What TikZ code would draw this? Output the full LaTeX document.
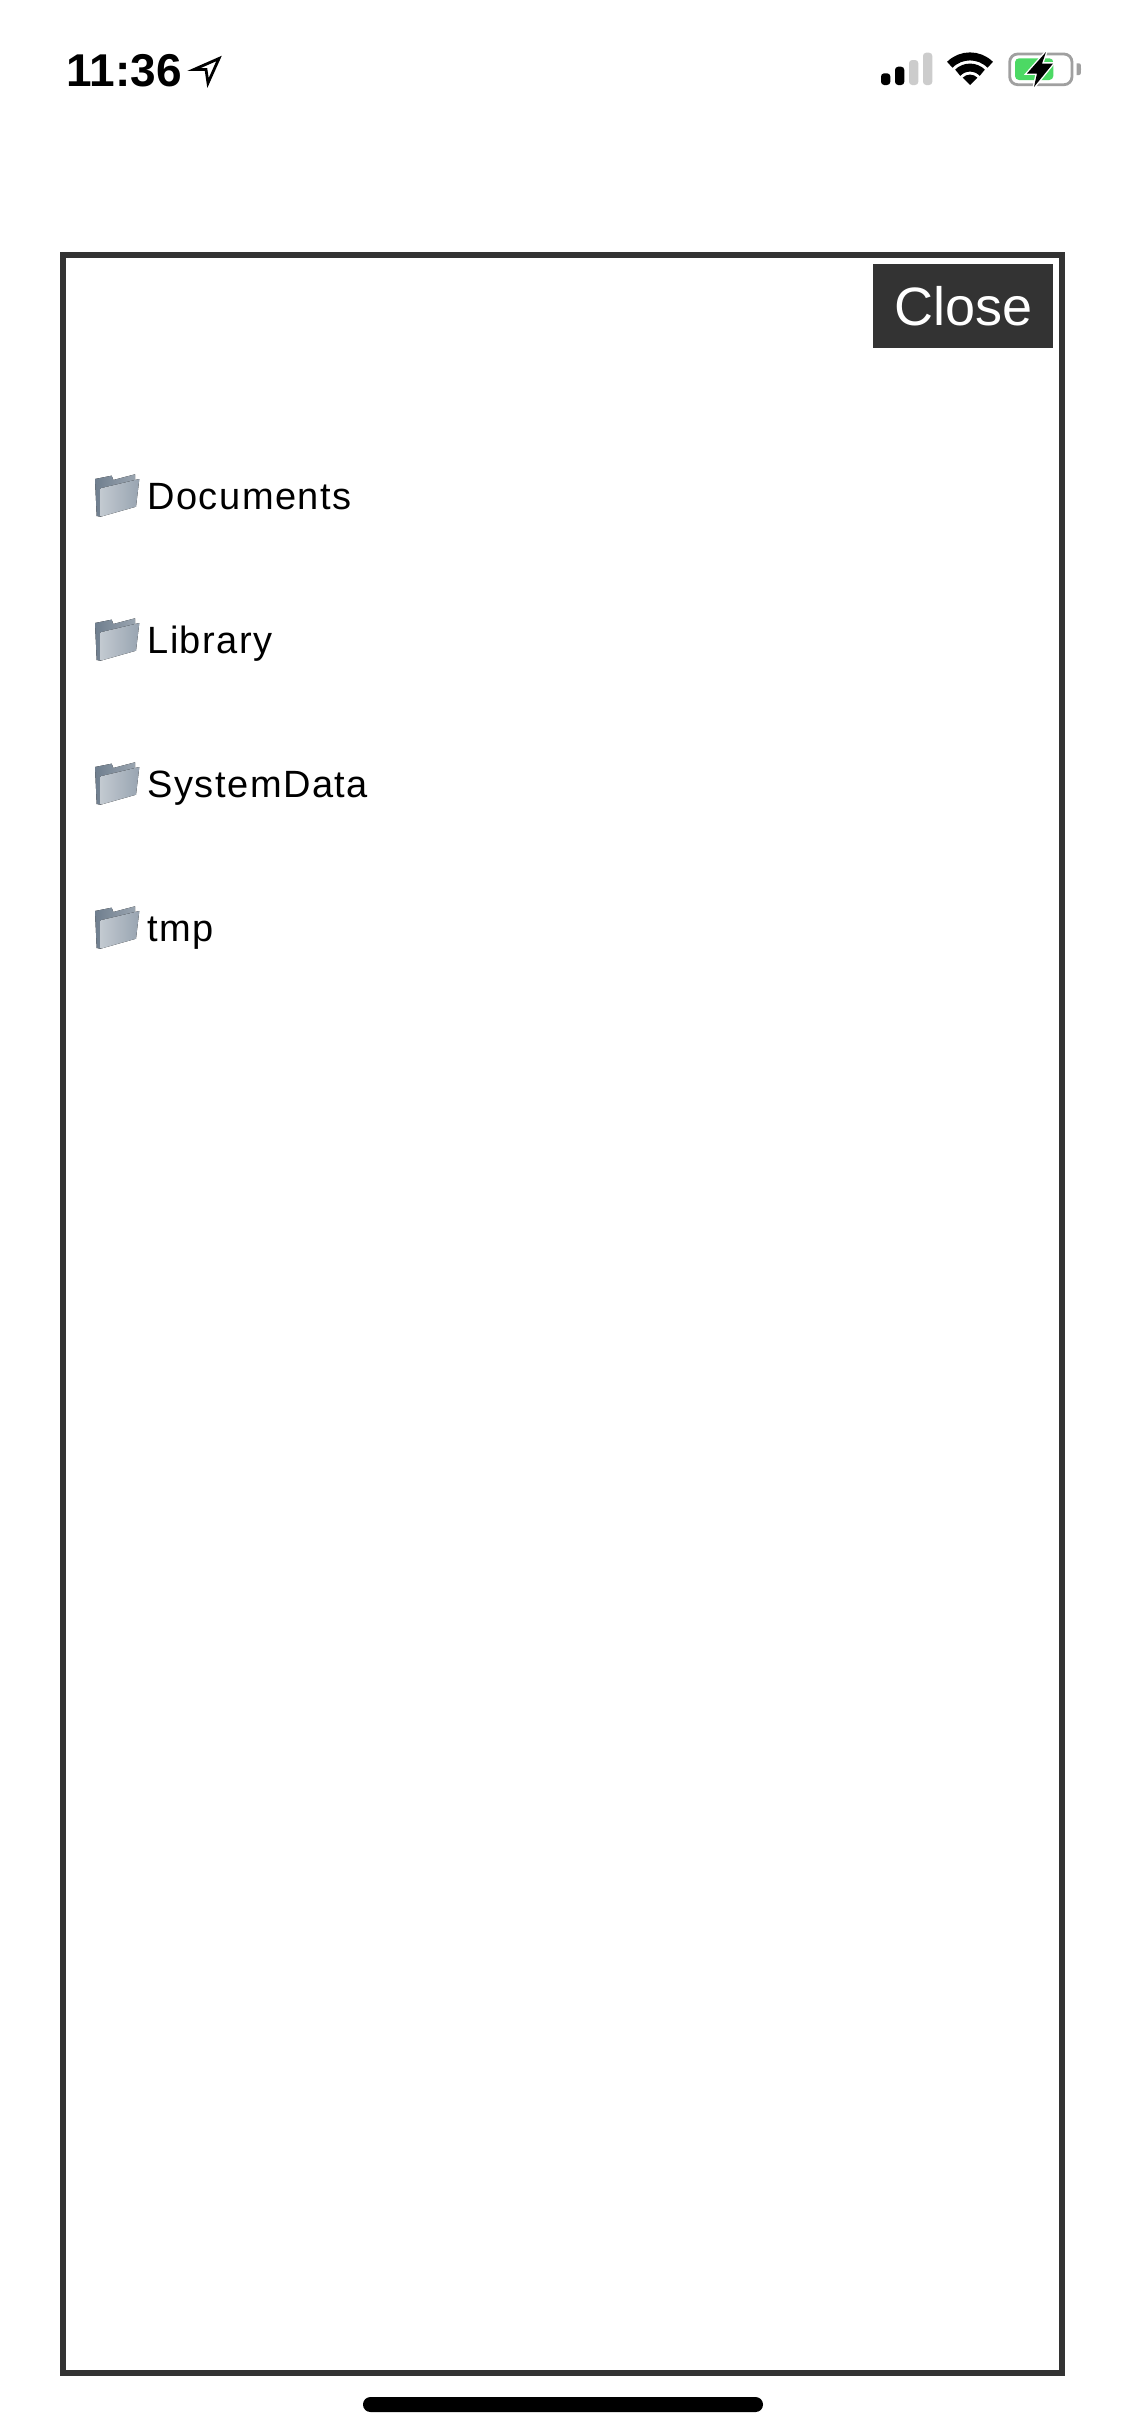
\documentclass[tikz,border=0pt]{standalone}
\usepackage{fontspec}
\setmainfont{Liberation Sans}
\newfontfamily\rowfont[LetterSpace=4]{Liberation Sans}
\definecolor{framegray}{HTML}{333333}
\definecolor{signaloff}{HTML}{CCCCCC}
\definecolor{battgray}{HTML}{A0A0A0}
\definecolor{battgreen}{HTML}{4CD964}
\definecolor{foldlight}{HTML}{C2C9D0}
\definecolor{foldmid}{HTML}{98A4B1}
\definecolor{foldback}{HTML}{6F7E8E}
\tikzset{
  x=0.5pt,y=-0.5pt,
  rowlabel/.style={inner sep=0pt,anchor=base west,text=black,font=\rowfont\fontsize{19}{21}\selectfont},
  sigbar/.style={rounded corners=1.6pt},
  wifiband/.style={draw=black,line cap=butt},
  pics/folderpic/.style={code={
    \fill[left color=foldback,right color=foldback!70!white] (15,14) -- (31.7,10.7) -- (33.3,15) -- (55,9.3) -- (55,16) -- (20.7,51.7) -- (16.7,51) -- cycle;
    \fill[shading angle=100,left color=foldlight,right color=foldmid] (20.7,23.3) -- (59.3,14) -- (56,41.7) -- (20.7,51.7) -- cycle;
  }}
}
\begin{document}
\begin{tikzpicture}
\useasboundingbox[fill=white] (0,0) rectangle (1125,2436);
% status bar
\node[inner sep=0pt,anchor=base west,font=\bfseries\fontsize{23}{25}\selectfont] (clock) at (66.5,86) {11:36};
\draw[line width=1.4pt,miter limit=10] (194,69.5) -- (219,58.5) -- (208,83) -- (206,69.5) -- cycle;
\fill[sigbar,black] (881,73.3) rectangle (890.3,85);
\fill[sigbar,black] (895,66.7) rectangle (904.3,85);
\fill[sigbar,signaloff] (909,60) rectangle (918.3,85);
\fill[sigbar,signaloff] (923,52.7) rectangle (932.3,85);
\coordinate (wifi) at (970,85);
\draw[wifiband,line width=4pt] (wifi) ++(45:14.3pt) arc[start angle=45,end angle=135,radius=14.3pt];
\draw[wifiband,line width=4pt] (wifi) ++(45:8.7pt) arc[start angle=45,end angle=135,radius=8.7pt];
\fill (wifi) -- ++(45:5.2pt) arc[start angle=45,end angle=135,radius=5.2pt] -- cycle;
\draw[battgray,line width=1.4pt,rounded corners=4pt] (1009.7,54) rectangle (1072,84.7);
\fill[battgreen,rounded corners=2pt] (1015,58.3) rectangle (1053.3,80);
\fill[battgray] (1076.7,63.3) -- (1079,63.3) to[out=0,in=90] (1081,69) to[out=-90,in=0] (1079,75) -- (1076.7,75) -- cycle;
\draw[white,line width=1.4pt,line join=miter] (1046,52) -- (1027,73.5) -- (1037,73.5) -- (1034,87) -- (1053,63.5) -- (1042,63.5) -- cycle;
\fill[black] (1046,52) -- (1027,73.5) -- (1037,73.5) -- (1034,87) -- (1053,63.5) -- (1042,63.5) -- cycle;
% frame
\draw[framegray,line width=3pt] (63,255) rectangle (1062,2373);
\node[fill=framegray,text=white,inner sep=0pt,minimum width=90pt,minimum height=42pt,anchor=north west,font=\fontsize{27}{30}\selectfont] (close) at (873,264) {Close};
% rows
\foreach \name/\label/\yy in {doc/Documents/0,lib/Library/144,sys/SystemData/288,tmp/tmp/432}{
  \pic at (80,465+\yy) {folderpic};
  \node[rowlabel] (\name) at (147,509+\yy) {\label};
}
% home indicator
\fill[black,rounded corners=3.7pt] (363,2397) rectangle (763,2412);
\end{tikzpicture}
\end{document}
